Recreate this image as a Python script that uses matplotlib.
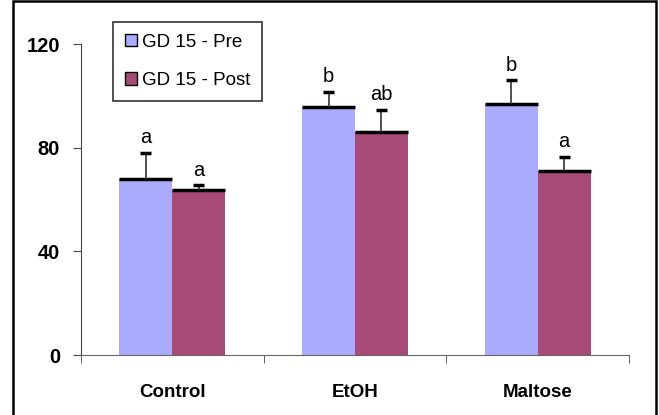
import numpy as np
import matplotlib
matplotlib.use("Agg")
import matplotlib.pyplot as plt
from matplotlib.patches import Patch, Rectangle

plt.rcParams['font.family'] = ['Liberation Sans', 'DejaVu Sans']

# ---- data ----
groups = ["Control", "EtOH", "Maltose"]
series = ["GD 15 - Pre", "GD 15 - Post"]
pre_vals = [68, 95.5, 97]
post_vals = [63.5, 86, 71]
pre_err = [10, 6, 9]
post_err = [2, 8.5, 5.5]
pre_letters = ["a", "b", "b"]
post_letters = ["a", "ab", "a"]

colors = ["#AAAAFF", "#A84A77"]
width = 0.29

fig = plt.figure(figsize=(6.59, 4.15), dpi=100)
ax = fig.add_axes([81/659, 1 - 355/415, (629 - 81)/659, (355 - 44)/415])

x = np.arange(len(groups))
for i, (vals, errs, lets) in enumerate([(pre_vals, pre_err, pre_letters),
                                        (post_vals, post_err, post_letters)]):
    xs = x + (i - 0.5) * width
    ax.bar(xs, vals, width, color=colors[i], edgecolor='none', zorder=2)
    # thick black line on top of each bar
    ax.hlines(vals, xs - width/2, xs + width/2, color='black', lw=2.5, zorder=3)
    tops = np.array(vals) + np.array(errs)
    ax.vlines(xs, vals, tops, color='#333333', lw=1.2, zorder=3)
    ax.hlines(tops, xs - 0.03, xs + 0.03, color='black', lw=2.5, zorder=3)
    for xi, t, l in zip(xs, tops, lets):
        ax.annotate(l, (xi, t), xytext=(0, 7), textcoords='offset points',
                    ha='center', va='baseline', fontsize=14.5)

ax.set_xlim(-0.5, 2.5)
ax.set_ylim(0, 120)
ax.set_yticks([0, 40, 80, 120])
ax.set_xticks(x)
ax.set_xticklabels(groups, fontsize=13.5, fontweight='bold')
ax.set_xticks([-0.5, 0.5, 1.5, 2.5], minor=True)
ax.tick_params(axis='x', which='major', length=0, pad=21)
ax.tick_params(axis='x', which='minor', length=6, direction='out', color='#444444')
ax.tick_params(axis='y', length=6, direction='out', color='#444444', pad=9, labelsize=14.5)
for lab in ax.get_yticklabels():
    lab.set_fontweight('bold')

for s in ['top', 'right']:
    ax.spines[s].set_visible(False)
ax.spines['left'].set_color('#444444')
ax.spines['bottom'].set_color('#666666')

handles = [Patch(facecolor=c, edgecolor='black', lw=1) for c in colors]
leg = fig.legend(handles, series, loc='upper left',
                 bbox_to_anchor=(113/659, 1 - 22/415), fontsize=13.5,
                 frameon=True, fancybox=False, handlelength=0.65, handleheight=0.65,
                 handletextpad=0.3, labelspacing=1.15, borderpad=0.62,
                 borderaxespad=0)
leg.get_frame().set_edgecolor('black')
leg.get_frame().set_linewidth(1.2)

# outer chart frame
fig.patches.append(Rectangle((12.5/659, -0.05), (656 - 12.5)/659, 1.05 - 1.5/415,
                             transform=fig.transFigure, fill=False,
                             edgecolor='black', lw=1.8))

fig.savefig("out.png", dpi=100)
